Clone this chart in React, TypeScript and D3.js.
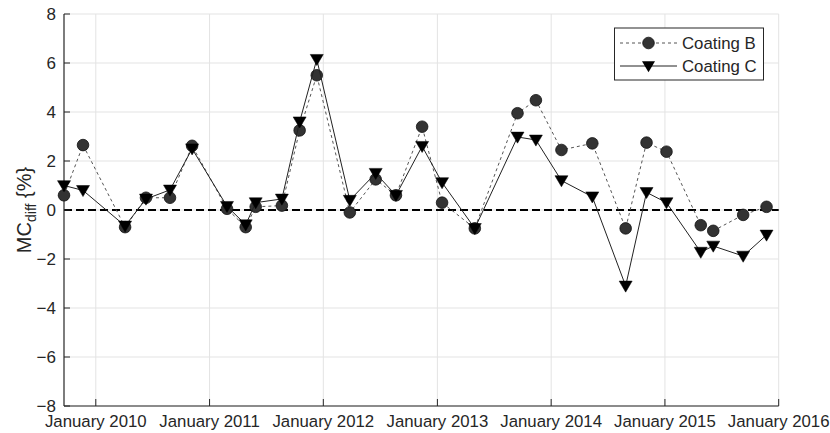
import React from "react";
import * as d3 from "d3";

const dates: string[] = [
  "2009-09-21", "2009-11-21", "2010-04-05", "2010-06-11", "2010-08-27", "2010-11-06",
  "2011-02-26", "2011-04-27", "2011-05-29", "2011-08-21", "2011-10-17", "2011-12-11",
  "2012-03-26", "2012-06-17", "2012-08-21", "2012-11-13", "2013-01-16", "2013-05-01",
  "2013-09-15", "2013-11-13", "2014-02-03", "2014-05-13", "2014-08-28", "2014-11-03",
  "2015-01-06", "2015-04-26", "2015-06-05", "2015-09-09", "2015-11-23",
];
const coatingB: number[] = [
  0.6, 2.65, -0.7, 0.5, 0.5, 2.62,
  0.05, -0.7, 0.13, 0.18, 3.25, 5.5,
  -0.1, 1.25, 0.6, 3.4, 0.3, -0.75,
  3.95, 4.48, 2.45, 2.72, -0.75, 2.75,
  2.38, -0.62, -0.85, -0.2, 0.13,
];
const coatingC: number[] = [
  1.0, 0.8, -0.65, 0.45, 0.82, 2.5,
  0.15, -0.6, 0.3, 0.45, 3.6, 6.15,
  0.4, 1.5, 0.6, 2.6, 1.12, -0.75,
  2.98, 2.86, 1.2, 0.54, -3.1, 0.72,
  0.3, -1.72, -1.47, -1.88, -1.02,
];
const yTicks: number[] = [-8, -6, -4, -2, 0, 2, 4, 6, 8];
const xTickYears: number[] = [2010, 2011, 2012, 2013, 2014, 2015, 2016];
const seriesNames: string[] = ["Coating B", "Coating C"];

const parse = d3.timeParse("%Y-%m-%d");

export default function App() {
  const W = 830, H = 433;
  const left = 64, right = 778.7, top = 14, bottom = 406;
  const dts = dates.map((d) => parse(d) as Date);
  const x = d3.scaleTime().domain([dts[0], new Date(2016, 0, 1)]).range([left, right]);
  const y = d3.scaleLinear().domain([-8, 8]).range([bottom, top]);
  const line = d3.line<[Date, number]>().x((d) => x(d[0])).y((d) => y(d[1]));
  const bData: [Date, number][] = dts.map((d, i) => [d, coatingB[i]]);
  const cData: [Date, number][] = dts.map((d, i) => [d, coatingC[i]]);
  const font = "'Liberation Sans', Arial, sans-serif";
  const textCol = "#262626";
  const gridCol = "#e3e3e3";
  const tri = (cx: number, cy: number, s = 6.5) =>
    `M${cx - s},${cy - s * 0.75}L${cx + s},${cy - s * 0.75}L${cx},${cy + s * 0.95}Z`;
  const xTicks = xTickYears.map((yr) => new Date(yr, 0, 1));

  return (
    <svg width={W} height={H} style={{ position: "absolute", left: 0, top: 0, background: "#fff" }} fontFamily={font}>
      {/* grid */}
      {yTicks.map((t) => (
        <line key={"gy" + t} x1={left} x2={right} y1={y(t)} y2={y(t)} stroke={gridCol} strokeWidth={1} />
      ))}
      {xTicks.map((t, i) => (
        <line key={"gx" + i} x1={x(t)} x2={x(t)} y1={top} y2={bottom} stroke={gridCol} strokeWidth={1} />
      ))}
      {/* zero line */}
      <line x1={left} x2={right} y1={y(0)} y2={y(0)} stroke="#000" strokeWidth={2.2} strokeDasharray="8,4" />
      {/* axes */}
      <line x1={left} x2={left} y1={top} y2={bottom} stroke={textCol} strokeWidth={1.2} />
      <line x1={left} x2={right} y1={bottom} y2={bottom} stroke={textCol} strokeWidth={1.2} />
      {yTicks.map((t) => (
        <g key={"ty" + t}>
          <line x1={left} x2={left + 6} y1={y(t)} y2={y(t)} stroke={textCol} strokeWidth={1} />
          <text x={left - 8} y={y(t)} dy="0.34em" textAnchor="end" fontSize={17} fill={textCol}>
            {t < 0 ? "\u2212" + Math.abs(t) : String(t)}
          </text>
        </g>
      ))}
      {xTicks.map((t, i) => (
        <g key={"tx" + i}>
          <line x1={x(t)} x2={x(t)} y1={bottom} y2={bottom - 7} stroke={textCol} strokeWidth={1} />
          <text x={x(t)} y={bottom + 21} textAnchor="middle" fontSize={16.8} fill={textCol}>
            {"January " + xTickYears[i]}
          </text>
        </g>
      ))}
      {/* y label */}
      <text transform={`translate(31,${(top + bottom) / 2}) rotate(-90)`} textAnchor="middle" fontSize={20} fill={textCol}>
        MC<tspan fontSize={14} dy={5}>diff</tspan>
        <tspan dy={-5}> {"{%}"}</tspan>
      </text>
      {/* series B */}
      <path d={line(bData) || ""} fill="none" stroke="#555" strokeWidth={1} strokeDasharray="3,3" />
      {bData.map((d, i) => (
        <circle key={"b" + i} cx={x(d[0])} cy={y(d[1])} r={5.8} fill="#333" stroke="#111" strokeWidth={0.8} />
      ))}
      {/* series C */}
      <path d={line(cData) || ""} fill="none" stroke="#222" strokeWidth={1} />
      {cData.map((d, i) => (
        <path key={"c" + i} d={tri(x(d[0]), y(d[1]))} fill="#000" stroke="#000" strokeWidth={0.5} />
      ))}
      {/* legend */}
      <g>
        <rect x={614.5} y={28} width={149} height={52} fill="#fff" stroke="#262626" strokeWidth={1} />
        <line x1={620} x2={677} y1={43} y2={43} stroke="#555" strokeWidth={1} strokeDasharray="3,3" />
        <circle cx={648.5} cy={43} r={5.8} fill="#333" stroke="#111" strokeWidth={0.8} />
        <text x={682} y={43} dy="0.36em" fontSize={16.8} fill={textCol}>{seriesNames[0]}</text>
        <line x1={620} x2={677} y1={66} y2={66} stroke="#222" strokeWidth={1} />
        <path d={tri(648.5, 66)} fill="#000" />
        <text x={682} y={66} dy="0.36em" fontSize={16.8} fill={textCol}>{seriesNames[1]}</text>
      </g>
    </svg>
  );
}
